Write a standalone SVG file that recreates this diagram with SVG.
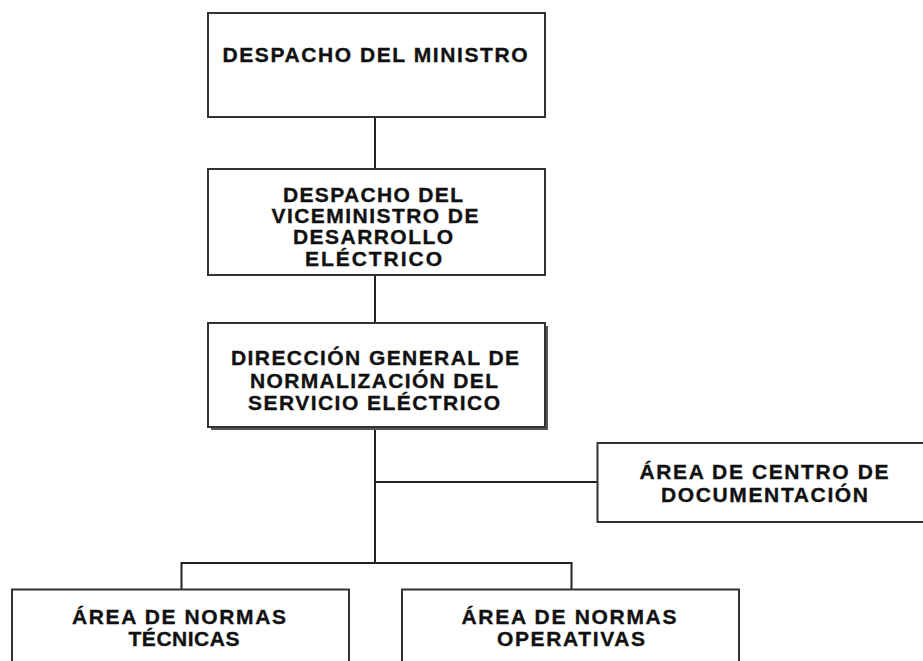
<svg xmlns="http://www.w3.org/2000/svg" width="923" height="661" viewBox="0 0 923 661">
<style>
.box{fill:#fff;stroke:#333;stroke-width:2}
.shadow{fill:#555}
.t{font-family:"Liberation Sans",Arial,sans-serif;font-weight:bold;font-size:21px;fill:#111;stroke:#111;stroke-width:0.35;text-anchor:middle}
.c{stroke:#222;stroke-width:2;fill:none}
</style>
<rect width="923" height="661" fill="#fff"/>
<g id="connectors">
<line class="c" x1="375" y1="117" x2="375" y2="169"/>
<line class="c" x1="375" y1="275" x2="375" y2="323"/>
<line class="c" x1="375" y1="427" x2="375" y2="563"/>
<line class="c" x1="375" y1="482" x2="597" y2="482"/>
<polyline class="c" points="181.5,589 181.5,563 571.5,563 571.5,589"/>
</g>
<g id="n1">
<rect class="box" x="208" y="13" width="337" height="104"/>
<text class="t" x="375" y="61.5" textLength="305" lengthAdjust="spacing">DESPACHO DEL MINISTRO</text>
</g>
<g id="n2">
<rect class="box" x="208" y="169" width="337" height="106"/>
<text class="t" x="373" y="201.5" textLength="180" lengthAdjust="spacing">DESPACHO DEL</text>
<text class="t" x="375" y="222.5" textLength="207" lengthAdjust="spacing">VICEMINISTRO DE</text>
<text class="t" x="373" y="243.5" textLength="160" lengthAdjust="spacing">DESARROLLO</text>
<text class="t" x="373.5" y="265.5" textLength="137" lengthAdjust="spacing">ELÉCTRICO</text>
</g>
<g id="n3">
<rect class="shadow" x="211" y="326" width="337" height="104"/>
<rect class="box" x="208" y="323" width="337" height="104"/>
<text class="t" x="375" y="365" textLength="288" lengthAdjust="spacing">DIRECCIÓN GENERAL DE</text>
<text class="t" x="374" y="388" textLength="248" lengthAdjust="spacing">NORMALIZACIÓN DEL</text>
<text class="t" x="374" y="410" textLength="252" lengthAdjust="spacing">SERVICIO ELÉCTRICO</text>
</g>
<g id="n4">
<rect class="box" x="597.5" y="443" width="335" height="79"/>
<text class="t" x="764" y="478.5" textLength="249" lengthAdjust="spacing">ÁREA DE CENTRO DE</text>
<text class="t" x="764.5" y="501.5" textLength="207" lengthAdjust="spacing">DOCUMENTACIÓN</text>
</g>
<g id="n5">
<rect class="box" x="12" y="589.5" width="337" height="90"/>
<text class="t" x="179" y="624" textLength="214" lengthAdjust="spacing">ÁREA DE NORMAS</text>
<text class="t" x="184" y="645.5" textLength="111" lengthAdjust="spacing">TÉCNICAS</text>
</g>
<g id="n6">
<rect class="box" x="402" y="589.5" width="337" height="90"/>
<text class="t" x="569" y="624" textLength="215" lengthAdjust="spacing">ÁREA DE NORMAS</text>
<text class="t" x="571" y="645.5" textLength="148" lengthAdjust="spacing">OPERATIVAS</text>
</g>
</svg>
